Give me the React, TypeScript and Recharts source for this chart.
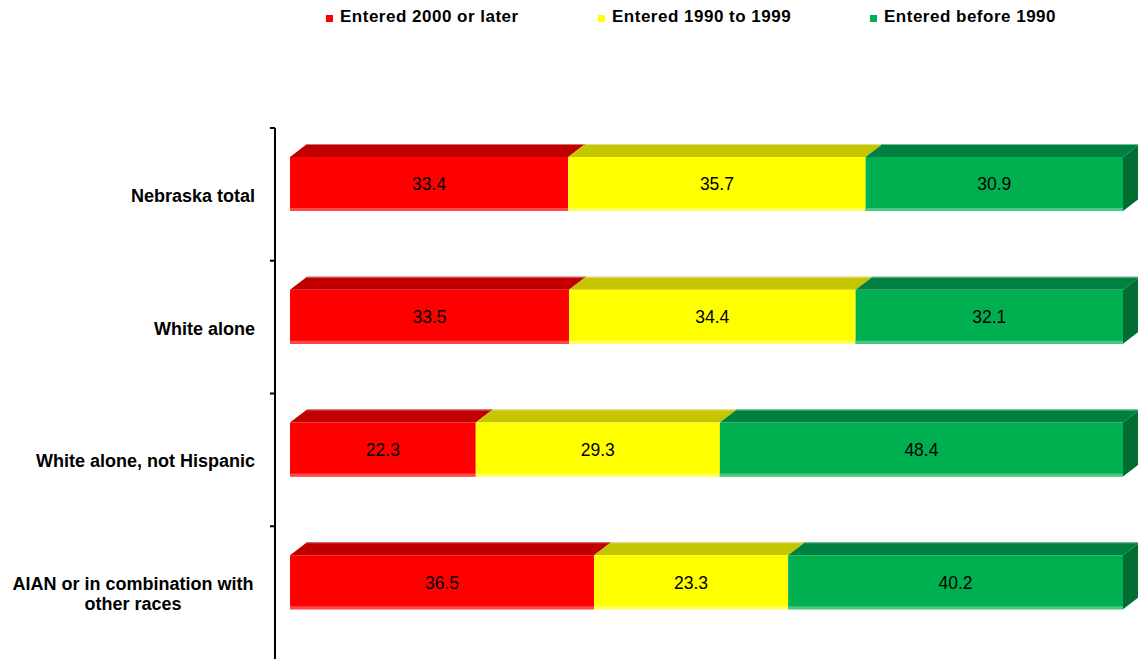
import React from 'react';
import { BarChart, Bar, XAxis, YAxis, Legend, LabelList } from 'recharts';

// Share of foreign born by year of entry, percent
const categories = [
  'Nebraska total',
  'White alone',
  'White alone, not Hispanic',
  'AIAN or in combination with other races',
];
const entered2000OrLater = [33.4, 33.5, 22.3, 36.5];
const entered1990To1999 = [35.7, 34.4, 29.3, 23.3];
const enteredBefore1990 = [30.9, 32.1, 48.4, 40.2];

const data = categories.map((name, i) => ({
  name,
  late: entered2000OrLater[i],
  mid: entered1990To1999[i],
  early: enteredBefore1990[i],
}));

const WIDTH = 1138;
const HEIGHT = 659;
const TOP = 128;
const AXIS_W = 275;
const DX = 17; // 3d depth
const DY = 13;
const LIFT = 10;
const FONT = '"Liberation Sans", Arial, sans-serif';

const series = [
  { key: 'late', name: 'Entered 2000 or later', front: '#FF0000', top: '#C00000', edge: '#D87070', bottom: '#FF4848' },
  { key: 'mid', name: 'Entered 1990 to 1999', front: '#FFFF00', top: '#C6C600', edge: '#DEDE90', bottom: '#FFFF60' },
  { key: 'early', name: 'Entered before 1990', front: '#00B050', top: '#008040', edge: '#70C098', bottom: '#48C880', side: '#006E33' },
];

const makeShape = (s: any) => (props: any) => {
  const { x, y, width, height } = props;
  const t = y - LIFT;
  return (
    <g>
      <polygon
        points={`${x},${t} ${x + width},${t} ${x + width + DX},${t - DY} ${x + DX},${t - DY}`}
        fill={s.top}
      />
      <line x1={x + DX} y1={t - DY + 0.5} x2={x + width + DX} y2={t - DY + 0.5} stroke={s.edge} strokeWidth={1} />
      <rect x={x} y={t} width={width} height={height} fill={s.front} />
      <rect x={x} y={t + height - 3} width={width} height={3} fill={s.bottom} />
      {s.side && (
        <polygon
          points={`${x + width},${t} ${x + width + DX},${t - DY} ${x + width + DX},${t + height - DY} ${x + width},${t + height}`}
          fill={s.side}
        />
      )}
    </g>
  );
};

const ValueLabel = (props: any) => {
  const { x, y, width, height, value } = props;
  return (
    <text
      x={x + width / 2}
      y={y - LIFT + height / 2}
      dy="0.36em"
      textAnchor="middle"
      fontFamily={FONT}
      fontSize={17.5}
      fill="#000"
    >
      {Number(value).toFixed(1)}
    </text>
  );
};

const wrap = (s: string, max = 27) => {
  const words = s.split(' ');
  const lines: string[] = [];
  let cur = '';
  words.forEach((w) => {
    const next = cur ? cur + ' ' + w : w;
    if (next.length > max && cur) {
      lines.push(cur);
      cur = w;
    } else cur = next;
  });
  if (cur) lines.push(cur);
  return lines;
};

const CategoryTick = (props: any) => {
  const { y, payload } = props;
  const band = (HEIGHT - TOP) / categories.length;
  const lines = wrap(payload.value);
  const right = AXIS_W - 20;
  const multi = lines.length > 1;
  return (
    <g>
      <line x1={AXIS_W - 5} y1={y - band / 2} x2={AXIS_W} y2={y - band / 2} stroke="#000" strokeWidth={2} />
      <text
        fontFamily={FONT}
        fontSize={18}
        fontWeight="bold"
        fill="#000"
        textAnchor={multi ? 'middle' : 'end'}
      >
        {lines.map((l, i) => (
          <tspan
            key={i}
            x={multi ? right - 122 : right}
            y={y + 1 + (i - (lines.length - 1) / 2) * 20}
            dy="0.36em"
          >
            {l}
          </tspan>
        ))}
      </text>
    </g>
  );
};

const LegendContent = () => (
  <div style={{ position: 'relative', height: 0 }}>
    <div style={{ position: 'absolute', left: 326, top: 7, display: 'flex', fontFamily: FONT }}>
      {series.map((s) => (
        <div key={s.key} style={{ width: 272, display: 'flex', alignItems: 'center' }}>
          <span style={{ width: 7, height: 7, background: s.front, marginRight: 7, marginTop: 2 }} />
          <span style={{ fontSize: 17, fontWeight: 'bold', letterSpacing: 0.5, lineHeight: '20px', color: '#000' }}>
            {s.name}
          </span>
        </div>
      ))}
    </div>
  </div>
);

export default function App() {
  return (
    <div style={{ position: 'absolute', left: 0, top: 0, width: WIDTH, height: HEIGHT, background: '#fff' }}>
      <BarChart
        width={WIDTH}
        height={HEIGHT}
        data={data}
        layout="vertical"
        margin={{ top: TOP, right: 15, bottom: 0, left: 0 }}
        barSize={54}
      >
        <XAxis type="number" domain={[0, 100]} hide padding={{ left: 15, right: 0 }} />
        <YAxis
          type="category"
          dataKey="name"
          width={AXIS_W}
          interval={0}
          tickLine={false}
          axisLine={{ stroke: '#000', strokeWidth: 2 }}
          tick={<CategoryTick />}
        />
        <Legend verticalAlign="top" content={<LegendContent />} wrapperStyle={{ top: 0, left: 0, width: WIDTH }} />
        {series.map((s) => (
          <Bar
            key={s.key}
            dataKey={s.key}
            name={s.name}
            stackId="a"
            fill={s.front}
            shape={makeShape(s)}
            isAnimationActive={false}
          >
            <LabelList dataKey={s.key} content={<ValueLabel />} />
          </Bar>
        ))}
      </BarChart>
    </div>
  );
}
